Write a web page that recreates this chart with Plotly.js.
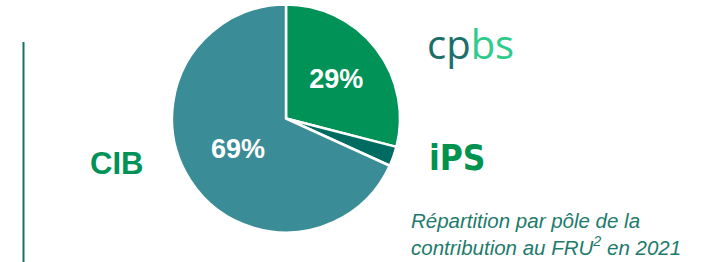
<!DOCTYPE html>
<html><head><meta charset="utf-8">
<script src="https://cdn.plot.ly/plotly-3.0.1.min.js"></script>
<style>html,body{margin:0;padding:0;background:#fff;}#chart{width:725px;height:262px;}</style>
</head><body><div id="chart"></div>
<script>
const poles = ["CPBS", "IPS", "CIB"];
const shares = [29, 2.8, 68.2];
const sliceLabels = ["29%", "", "69%"];
const sliceColors = ["#009257", "#006B61", "#3A8C97"];
const caption = "Répartition par pôle de la<br>contribution au FRU<sup>2</sup> en 2021";

const W = 725, H = 262;
const cx = 286, cy = 118.5, r = 114;

const trace = {
  type: "pie",
  labels: poles,
  values: shares,
  text: sliceLabels,
  textinfo: "text",
  textposition: "inside",
  insidetextorientation: "horizontal",
  sort: false,
  direction: "clockwise",
  rotation: 0,
  hole: 0,
  marker: {colors: sliceColors, line: {color: "#ffffff", width: 2.5}},
  textfont: {family: "Liberation Sans, Arial, sans-serif", size: 27, color: "#ffffff", weight: "bold"},
  domain: {x: [(cx - r) / W, (cx + r) / W], y: [(H - cy - r) / H, (H - cy + r) / H]},
  showlegend: false,
  hoverinfo: "none"
};

const layout = {
  width: W, height: H,
  margin: {l: 0, r: 0, t: 0, b: 0},
  paper_bgcolor: "#ffffff",
  showlegend: false,
  shapes: [
    {type: "line", xref: "paper", yref: "paper", x0: 23.5 / W, x1: 23.5 / W, y0: 0, y1: 1 - 42 / H,
     line: {color: "#1A6E63", width: 2}}
  ],
  annotations: [
    {text: "<b>CIB</b>", xref: "paper", yref: "paper", x: 116 / W, y: 1 - 163 / H,
     xanchor: "center", yanchor: "middle", showarrow: false,
     font: {family: "Liberation Sans, Arial, sans-serif", size: 31, color: "#009257"}},
    {text: "<span style='color:#1B6F6A'>cp</span><span style='color:#2FCB8C'>bs</span>",
     xref: "paper", yref: "paper", x: 470 / W, y: 1 - 43 / H,
     xanchor: "center", yanchor: "middle", showarrow: false,
     font: {family: "Open Sans, sans-serif", size: 40, color: "#1B6F6A", weight: 400}},
    {text: "<b>iPS</b>", xref: "paper", yref: "paper", x: 457.5 / W, y: 1 - 158 / H,
     xanchor: "center", yanchor: "middle", showarrow: false,
     font: {family: "DejaVu Sans Condensed, sans-serif", size: 35, color: "#00934F"}},
    {text: "<i>" + caption + "</i>", xref: "paper", yref: "paper", x: 409 / W, y: 1 - 234 / H,
     xanchor: "left", yanchor: "middle", align: "left", showarrow: false,
     font: {family: "Liberation Sans, Arial, sans-serif", size: 20.5, color: "#1E7A6C"}}
  ]
};

Plotly.newPlot("chart", [trace], layout, {displayModeBar: false, staticPlot: true});
</script></body></html>
